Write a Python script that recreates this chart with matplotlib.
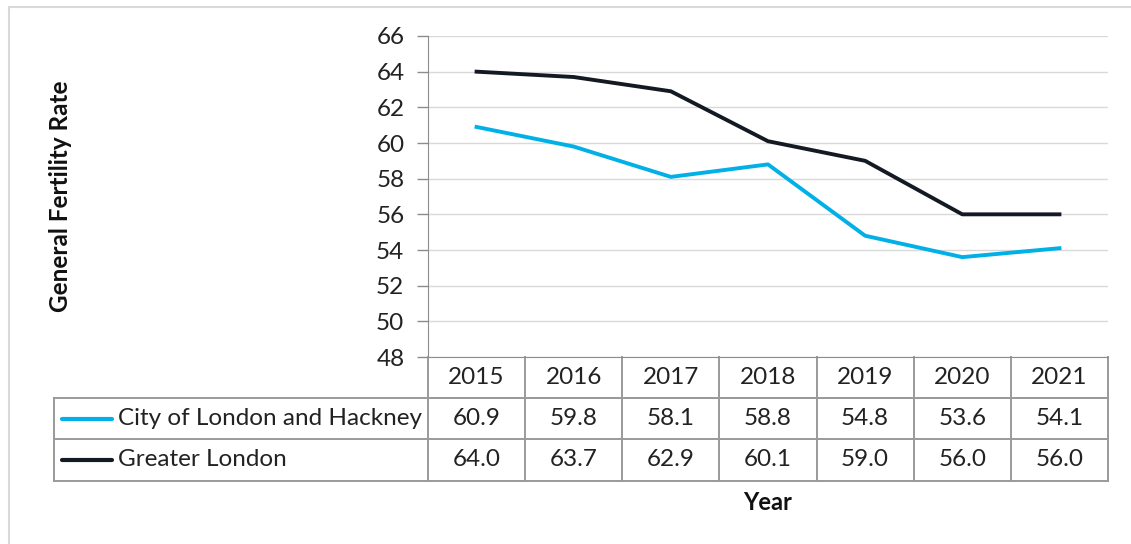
import matplotlib.pyplot as plt
from matplotlib.patches import Rectangle
from matplotlib.transforms import blended_transform_factory

years = ['2015', '2016', '2017', '2018', '2019', '2020', '2021']
hackney = [60.9, 59.8, 58.1, 58.8, 54.8, 53.6, 54.1]
london = [64.0, 63.7, 62.9, 60.1, 59.0, 56.0, 56.0]
series_names = ['City of London and Hackney', 'Greater London']
series_colors = ['#00B0E6', '#141A24']

plt.rcParams['font.family'] = ['Lato', 'DejaVu Sans']
W, H = 1131, 544
fig = plt.figure(figsize=(W / 100, H / 100), dpi=100)

# plot area in pixels
x0, x1, y0, y1 = 428, 1108, 36, 357
ax = fig.add_axes([x0 / W, 1 - y1 / H, (x1 - x0) / W, (y1 - y0) / H])

xs = range(len(years))
ax.plot(xs, hackney, color=series_colors[0], lw=2.8, solid_joinstyle='round')
ax.plot(xs, london, color=series_colors[1], lw=2.8, solid_joinstyle='round')

ax.set_xlim(-0.5, len(years) - 0.5)
ax.set_ylim(48, 66)
ax.set_yticks(range(48, 67, 2))
ax.set_xticks([])
ax.grid(axis='y', color='#D9D9D9', lw=1)
ax.set_axisbelow(True)
for s in ['top', 'right']:
    ax.spines[s].set_visible(False)
ax.spines['left'].set_color('#8C8C8C')
ax.spines['bottom'].set_color('#8C8C8C')
ax.tick_params(axis='y', length=8, width=1, color='#8C8C8C', labelsize=17.5,
               labelcolor='#222222', pad=9)

# data table under the axis
tr = blended_transform_factory(ax.transData, ax.transAxes)
ph = y1 - y0
rows = [0, -41 / ph, -82 / ph, -124 / ph]
unit = (x1 - x0) / len(years)
left = -0.5 - (x0 - 54) / unit
gc = '#9A9A9A'
kw = dict(transform=tr, color=gc, lw=1.4, clip_on=False)
fs = 17.5

# header row
ax.plot([-0.5, 6.5], [rows[1], rows[1]], **kw)
for i in range(len(years) + 1):
    ax.plot([i - 0.5, i - 0.5], [rows[0], rows[3]], **kw)
for i, y in enumerate(years):
    ax.text(i, (rows[0] + rows[1]) / 2, y, transform=tr, ha='center', va='center',
            fontsize=fs, color='#222222')

# series rows
for r in [1, 2, 3]:
    ax.plot([left, 6.5], [rows[r], rows[r]], **kw)
ax.plot([left, left], [rows[1], rows[3]], **kw)

for k, (name, vals, col) in enumerate(zip(series_names, [hackney, london], series_colors)):
    yc = (rows[k + 1] + rows[k + 2]) / 2
    lx0 = -0.5 - (x0 - 62) / unit
    lx1 = -0.5 - (x0 - 112) / unit
    ax.plot([lx0, lx1], [yc, yc], transform=tr, color=col, lw=3,
            solid_capstyle='round', clip_on=False)
    ax.text(-0.5 - (x0 - 118) / unit, yc, name, transform=tr, ha='left', va='center',
            fontsize=fs, color='#222222')
    for i, v in enumerate(vals):
        ax.text(i, yc, f'{v:.1f}', transform=tr, ha='center', va='center',
                fontsize=fs, color='#222222')

fig.text(60 / W, 1 - 196 / H, 'General Fertility Rate', rotation=90, ha='center',
         va='center', fontsize=17.5, fontweight='bold', color='#111111')
fig.text(768 / W, 1 - 503 / H, 'Year', ha='center', va='center', fontsize=17,
         fontweight='bold', color='#111111')

# chart border
fig.patches.append(Rectangle((8.5 / W, -0.05), 1.1, 1 - 6.5 / H + 0.05,
                             transform=fig.transFigure, fill=False,
                             edgecolor='#D9D9D9', lw=1.5))

fig.savefig('out.png', dpi=100)
